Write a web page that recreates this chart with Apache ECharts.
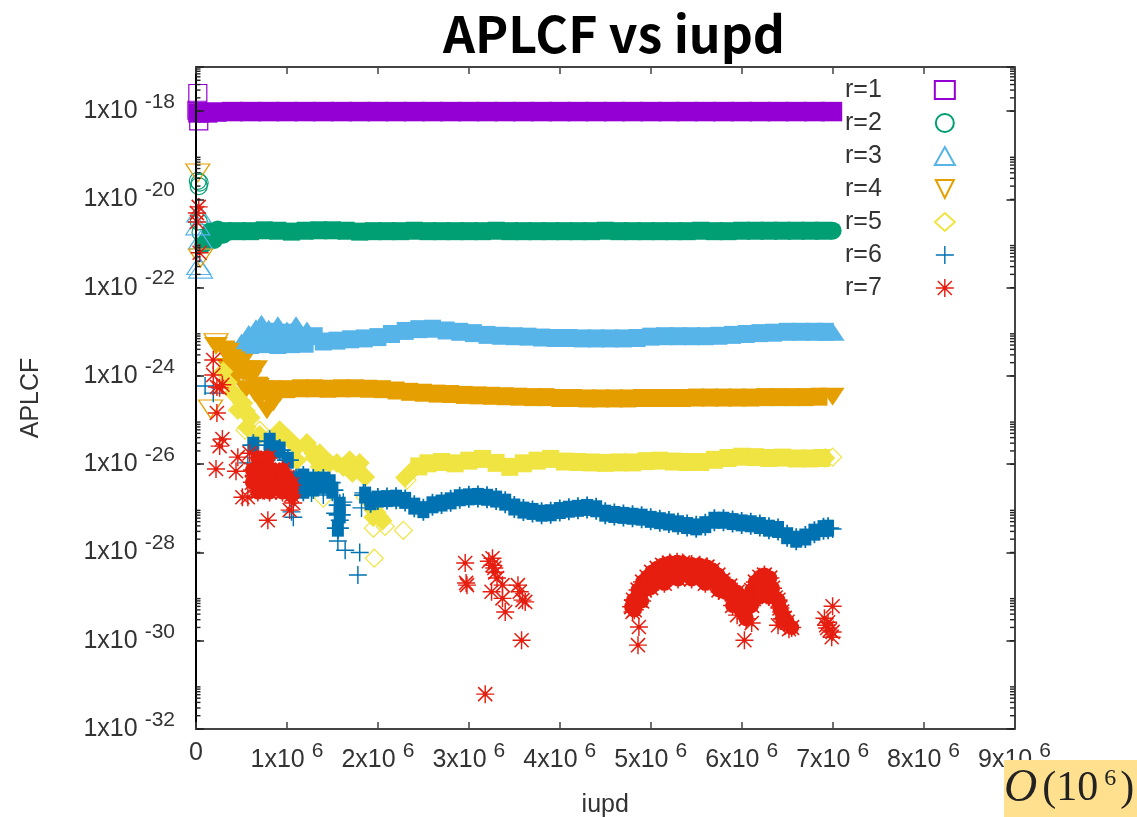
<!DOCTYPE html>
<html><head><meta charset="utf-8">
<style>html,body{margin:0;padding:0;background:#fff}#c{width:1137px;height:817px}</style>
<script src="https://cdn.jsdelivr.net/npm/echarts@6/dist/echarts.min.js"></script>
</head><body><div id="c"></div>
<script>
// All point arrays: [x in units of 1e6, log10(APLCF)]
const xTickLabels = ['0','1','2','3','4','5','6','7','8','9'];
const yTickExponents = ['-32','-30','-28','-26','-24','-22','-20','-18'];
const seriesNames = ['r=1','r=2','r=3','r=4','r=5','r=6','r=7'];
const minorMantissas = [9,8,7,6,5,4,3,2,1];
const minorDecades = [-31,-29,-27,-25,-23,-21,-19,-17];

const r1Sparse = [[0.02,-17.6],[0.03,-18.22],[0.01,-17.98]];
const r1Band = [[0.03,-18.04],[0.12,-18.04],[0.22,-18.02],[0.4,-18.01],[0.6,-18.01],[0.8,-18.01],[1.0,-18.01],[1.2,-18.01],[1.4,-18.01],[1.6,-18.01],[1.8,-18.01],[2.0,-18.01],[2.2,-18.01],[2.4,-18.01],[2.6,-18.01],[2.8,-18.01],[3.0,-18.01],[3.2,-18.01],[3.4,-18.01],[3.6,-18.01],[3.8,-18.01],[4.0,-18.01],[4.2,-18.01],[4.4,-18.01],[4.6,-18.01],[4.8,-18.01],[5.0,-18.01],[5.2,-18.01],[5.4,-18.01],[5.6,-18.01],[5.8,-18.01],[6.0,-18.01],[6.2,-18.01],[6.4,-18.01],[6.6,-18.01],[6.8,-18.01],[6.99,-18.01]];

const r2Sparse = [[0.02,-19.58],[0.03,-19.7],[0.04,-19.62],[0.03,-20.5],[0.05,-20.75]];
const r2Caps = [[0.08,-21.02],[0.13,-20.9],[0.16,-20.72],[0.2,-20.92],[0.24,-20.68],[0.3,-20.8],[7.0,-20.71]];
const r2Band = [[0.3,-20.72],[0.45,-20.72],[0.6,-20.72],[0.75,-20.7],[0.9,-20.71],[1.05,-20.73],[1.2,-20.71],[1.35,-20.7],[1.5,-20.7],[1.65,-20.71],[1.8,-20.73],[1.95,-20.72],[2.1,-20.72],[2.25,-20.72],[2.4,-20.71],[2.55,-20.72],[2.7,-20.72],[2.85,-20.72],[3.0,-20.72],[3.15,-20.72],[3.3,-20.71],[3.45,-20.72],[3.6,-20.72],[3.75,-20.72],[3.9,-20.72],[4.05,-20.72],[4.2,-20.72],[4.35,-20.72],[4.5,-20.71],[4.65,-20.72],[4.8,-20.72],[4.95,-20.72],[5.1,-20.72],[5.25,-20.72],[5.4,-20.72],[5.55,-20.71],[5.7,-20.72],[5.85,-20.72],[6.0,-20.71],[6.15,-20.71],[6.3,-20.71],[6.45,-20.71],[6.6,-20.71],[6.75,-20.71],[6.9,-20.71]];

const r3Sparse = [[0.03,-20.31],[0.05,-20.92],[0.03,-21.5],[0.05,-21.58],[0.02,-20.6]];
const r3Caps = [[0.42,-23.4],[0.5,-23.25],[0.58,-23.05],[0.66,-22.92],[0.72,-22.82],[0.8,-22.93],[0.9,-22.85],[1.0,-22.97],[1.1,-22.85],[1.22,-22.97],[7.0,-23.0]];
const r3Band = [[0.6,-23.3],[0.75,-23.28],[0.85,-23.0],[0.9,-23.3],[1.05,-23.28],[1.05,-23.02],[1.2,-23.27],[1.3,-23.1],[1.4,-23.22],[1.55,-23.2],[1.7,-23.17],[1.85,-23.15],[2.0,-23.12],[2.15,-23.05],[2.3,-22.98],[2.45,-22.94],[2.6,-22.93],[2.75,-22.97],[2.9,-23.0],[3.05,-23.03],[3.2,-23.07],[3.35,-23.09],[3.5,-23.1],[3.65,-23.11],[3.8,-23.13],[3.95,-23.14],[4.1,-23.14],[4.25,-23.15],[4.4,-23.15],[4.55,-23.15],[4.7,-23.15],[4.85,-23.14],[5.0,-23.11],[5.15,-23.1],[5.3,-23.1],[5.45,-23.1],[5.6,-23.1],[5.75,-23.09],[5.9,-23.07],[6.05,-23.05],[6.2,-23.03],[6.35,-23.02],[6.5,-23.0],[6.65,-23.0],[6.8,-23.0],[6.92,-23.0]];

const r4Sparse = [[0.02,-19.4],[0.05,-21.33],[0.22,-23.25],[0.16,-24.75]];
const r4Caps = [[0.22,-23.32],[0.3,-23.4],[0.35,-23.45],[0.35,-23.8],[0.38,-23.6],[0.42,-23.65],[0.45,-23.8],[0.45,-24.0],[0.5,-23.7],[0.52,-23.92],[0.55,-24.3],[0.58,-23.85],[0.6,-24.07],[0.65,-24.4],[0.66,-23.85],[0.68,-24.25],[0.7,-24.5],[0.72,-24.3],[0.78,-24.78],[0.8,-24.5],[0.85,-24.6],[0.92,-24.4],[7.0,-24.47]];
const r4Band = [[0.7,-24.22],[0.85,-24.3],[1.0,-24.3],[1.15,-24.28],[1.3,-24.28],[1.45,-24.29],[1.6,-24.28],[1.75,-24.28],[1.9,-24.29],[2.05,-24.3],[2.2,-24.33],[2.35,-24.36],[2.5,-24.38],[2.65,-24.4],[2.8,-24.41],[2.95,-24.43],[3.1,-24.44],[3.25,-24.45],[3.4,-24.46],[3.55,-24.47],[3.7,-24.48],[3.85,-24.48],[4.0,-24.5],[4.15,-24.5],[4.3,-24.51],[4.45,-24.51],[4.6,-24.51],[4.75,-24.51],[4.9,-24.5],[5.05,-24.5],[5.2,-24.5],[5.35,-24.5],[5.5,-24.49],[5.65,-24.49],[5.8,-24.49],[5.95,-24.49],[6.1,-24.49],[6.25,-24.48],[6.4,-24.48],[6.55,-24.48],[6.7,-24.48],[6.85,-24.47]];

const r5Sparse = [[0.54,-25.23],[0.7,-25.23],[1.95,-27.45],[2.08,-27.41],[2.28,-27.5],[1.96,-28.13],[2.32,-26.36],[1.44,-26.43],[1.4,-26.77],[1.86,-26.75],[1.99,-27.1],[7.0,-25.84]];
const r5Caps = [[0.3,-23.9],[0.35,-24.15],[0.41,-24.39],[0.42,-24.4],[0.46,-24.77],[0.5,-24.6],[0.52,-24.62],[0.55,-24.8],[0.56,-25.16],[0.59,-24.93],[0.6,-24.95],[0.7,-25.34],[0.89,-25.34],[0.92,-25.23],[1.0,-25.39],[1.03,-25.45],[1.11,-25.61],[1.11,-25.91],[1.22,-25.52],[1.23,-25.6],[1.29,-25.75],[1.3,-25.85],[1.36,-26.06],[1.36,-25.75],[1.45,-25.95],[1.47,-25.97],[1.55,-25.97],[1.62,-26.05],[1.62,-26.06],[1.69,-25.91],[1.77,-26.06],[1.8,-25.97],[1.86,-26.29],[1.72,-26.2],[1.95,-27.04],[1.95,-27.2],[2.02,-27.2],[2.05,-27.28],[2.3,-26.3],[2.4,-26.1],[6.92,-25.86]];
const r5Band = [[2.45,-26.05],[2.55,-25.98],[2.7,-25.95],[2.85,-25.98],[3.0,-25.92],[3.15,-25.88],[3.3,-25.97],[3.45,-26.06],[3.6,-25.98],[3.75,-25.92],[3.9,-25.88],[4.05,-25.94],[4.2,-25.95],[4.35,-25.96],[4.5,-25.97],[4.65,-25.96],[4.8,-25.96],[4.95,-25.93],[5.1,-25.92],[5.25,-25.94],[5.4,-25.95],[5.55,-25.95],[5.7,-25.9],[5.85,-25.86],[6.0,-25.83],[6.15,-25.84],[6.3,-25.86],[6.45,-25.85],[6.6,-25.87],[6.75,-25.87],[6.88,-25.86]];

const r6Sparse = [[0.1,-24.23],[0.19,-24.39],[0.57,-25.97],[1.07,-27.2],[1.05,-27.08],[1.27,-26.65],[1.62,-26.86],[1.53,-27.11],[1.58,-27.27],[1.56,-27.74],[1.64,-27.95],[1.8,-28.0],[1.78,-28.51],[1.82,-26.99],[1.84,-26.65],[1.4,-26.7],[7.0,-27.47]];
const r6Band = [[0.63,-25.57],[0.81,-25.48],[0.81,-25.73],[0.92,-25.68],[1.01,-25.91],[1.1,-26.35],[1.18,-26.29],[1.18,-26.59],[1.2,-26.45],[1.29,-26.36],[1.29,-26.54],[1.35,-26.42],[1.4,-26.36],[1.4,-26.48],[1.47,-26.42],[1.5,-26.59],[1.58,-26.93],[1.58,-27.15],[1.56,-27.45],[1.86,-26.7],[1.92,-26.85],[2.0,-26.79],[2.1,-26.78],[2.2,-26.77],[2.3,-26.82],[2.4,-26.95],[2.5,-27.03],[2.6,-26.92],[2.7,-26.88],[2.8,-26.83],[2.9,-26.76],[3.0,-26.74],[3.1,-26.73],[3.2,-26.75],[3.3,-26.79],[3.4,-26.86],[3.5,-26.97],[3.6,-27.04],[3.7,-27.07],[3.8,-27.11],[3.9,-27.1],[4.0,-27.05],[4.1,-27.02],[4.2,-27.0],[4.3,-26.98],[4.4,-27.01],[4.5,-27.11],[4.6,-27.14],[4.7,-27.16],[4.8,-27.18],[4.9,-27.2],[5.0,-27.25],[5.1,-27.28],[5.2,-27.31],[5.3,-27.35],[5.4,-27.39],[5.5,-27.42],[5.6,-27.37],[5.7,-27.27],[5.8,-27.27],[5.9,-27.3],[6.0,-27.33],[6.1,-27.35],[6.2,-27.39],[6.3,-27.45],[6.4,-27.48],[6.5,-27.62],[6.6,-27.7],[6.7,-27.65],[6.8,-27.54],[6.9,-27.46],[6.95,-27.45]];

const r7Sparse = [[0.03,-20.17],[0.01,-20.31],[0.01,-20.51],[0.04,-21.21],[0.19,-23.64],[0.19,-23.98],[0.26,-24.27],[0.29,-24.2],[0.23,-24.25],[0.23,-24.84],[0.29,-25.43],[0.26,-25.59],[0.22,-26.11],[0.44,-26.16],[0.46,-25.84],[0.59,-25.75],[0.51,-26.75],[0.57,-26.75],[0.79,-27.27],[1.07,-26.88],[1.03,-27.04],[0.68,-26.59],[2.96,-28.24],[2.97,-28.69],[2.98,-28.74],[3.26,-28.13],[3.26,-28.29],[3.29,-28.45],[3.31,-28.58],[3.25,-28.89],[3.37,-28.74],[3.37,-29.04],[3.4,-29.35],[3.54,-28.74],[3.56,-28.89],[3.59,-29.08],[3.62,-29.12],[3.58,-29.99],[3.18,-31.21],[3.28,-28.35],[3.22,-28.2],[4.87,-29.69],[4.86,-30.1],[4.8,-29.35],[6.11,-29.6],[6.03,-29.99],[5.95,-29.42],[6.4,-29.65],[6.52,-29.74],[6.47,-29.58],[7.0,-29.22],[6.91,-29.49],[6.93,-29.65],[6.97,-29.76],[6.99,-29.92],[6.95,-29.58],[6.94,-29.71],[7.0,-29.8]];
const r7Dense = [[0.68,-25.86],[0.79,-25.86],[0.74,-25.98],[0.62,-26.13],[0.73,-26.13],[0.84,-26.13],[0.95,-26.13],[0.67,-26.27],[0.78,-26.27],[0.89,-26.27],[1.0,-26.3],[0.62,-26.41],[0.73,-26.41],[0.84,-26.41],[0.95,-26.41],[1.05,-26.47],[0.68,-26.63],[0.81,-26.63],[0.95,-26.63],[1.05,-26.7],[4.79,-29.23],[4.81,-29.08],[4.86,-28.85],[4.91,-28.67],[4.96,-28.56],[5.01,-28.45],[5.07,-28.36],[5.13,-28.29],[5.21,-28.24],[5.29,-28.22],[5.35,-28.24],[5.45,-28.27],[5.54,-28.29],[5.62,-28.33],[5.68,-28.4],[5.74,-28.51],[5.79,-28.63],[5.87,-28.76],[5.95,-28.9],[6.0,-29.03],[6.01,-29.22],[6.07,-28.99],[6.11,-28.86],[6.15,-28.67],[6.2,-28.56],[6.25,-28.51],[6.31,-28.58],[6.34,-28.81],[6.37,-29.03],[6.42,-29.26],[6.47,-29.49],[4.88,-29.08],[4.93,-28.85],[5.01,-28.69],[5.1,-28.58],[5.21,-28.51],[5.32,-28.49],[5.43,-28.45],[5.54,-28.49],[5.65,-28.58],[5.74,-28.74],[5.82,-28.9],[5.92,-29.08],[6.03,-29.35],[6.11,-29.2],[6.2,-28.86],[6.29,-28.81],[6.4,-29.08],[6.44,-29.35],[6.5,-29.58],[5.0,-28.8],[5.15,-28.7],[5.3,-28.6],[5.45,-28.6],[5.6,-28.7],[5.75,-28.85],[5.9,-29.2],[6.05,-29.5],[6.2,-29.0],[6.3,-29.0],[6.45,-29.5],[4.82,-29.3],[4.9,-29.1],[6.55,-29.7]];

const colors = ['#9400D3','#009E73','#56B4E9','#E69F00','#F0E442','#0072B2','#E51E10'];
const plusPath = 'path://M46 0H54V46H100V54H54V100H46V54H0V46H46Z';
const starPath = 'path://M46 0H54V46H100V54H54V100H46V54H0V46H46ZM14 8L92 86L86 92L8 14ZM86 8L92 14L14 92L8 86ZM38 38H62V62H38Z';
const triDown = 'path://M0 0H100L50 100Z';

const toPts = a => a.map(p => [p[0]*1e6, p[1]]);
const base = {type:'scatter', silent:true, clip:false, animation:false, emphasis:{disabled:true}};
const hollow = (i,data,symbol,size) => Object.assign({},base,{name:seriesNames[i],data:toPts(data),symbol,symbolSize:size,
  itemStyle:{color:'rgba(255,255,255,0)',borderColor:colors[i],borderWidth:1.2,opacity:1}});
const filled = (i,data,symbol,size) => Object.assign({},base,{name:seriesNames[i],data:toPts(data),symbol,symbolSize:size,
  itemStyle:{color:colors[i],opacity:1,borderWidth:0}});

const minorData = [];
minorDecades.forEach(d => minorMantissas.forEach(m => { const v = d-1+Math.log10(m); if (v>=-32 && v<=-17) minorData.push(v); }));

const series = [
  hollow(0,r1Sparse,'rect',[18,18]), filled(0,r1Band,'rect',[21,19.5]),
  hollow(1,r2Sparse,'circle',[17,17]), filled(1,r2Band,'rect',[17,18]), filled(1,r2Caps,'circle',[18,18]),
  hollow(2,r3Sparse,'triangle',[24,18]), filled(2,r3Band,'rect',[17,18]), filled(2,r3Caps,'triangle',[24,18]),
  hollow(3,r4Sparse,triDown,[24,18]), filled(3,r4Band,'rect',[17,18]), filled(3,r4Caps,triDown,[24,18]),
  hollow(4,r5Sparse,'diamond',[18,18]), filled(4,r5Band,'rect',[17,18]), filled(4,r5Caps,'diamond',[20,20]),
  filled(5,r6Sparse,plusPath,[18,18]), filled(5,r6Band,plusPath,[22,22]), filled(5,r6Band,'rect',[12,17]),
  filled(6,r7Sparse,starPath,[18,18]), filled(6,r7Dense,starPath,[19,19]), filled(6,r7Dense,'circle',[15,15]),
  {type:'custom', silent:true, animation:false, clip:false, z:6, data:minorData.map(v=>[0,v]),
   renderItem:(p,api)=>{
     const v=api.value(1), L=api.coord([0,v]), R=api.coord([9e6,v]);
     const st={stroke:'#222',lineWidth:1.4};
     return {type:'group',children:[
       {type:'line',shape:{x1:L[0],y1:L[1],x2:L[0]+4.5,y2:L[1]},style:st},
       {type:'line',shape:{x1:R[0],y1:R[1],x2:R[0]-4.5,y2:R[1]},style:st}]};
   }}
];

const supRich = {a:{fontFamily:'Liberation Sans',fontSize:25,color:'#333'},
  s:{fontFamily:'Liberation Sans',fontSize:21,color:'#333',padding:[0,0,18,7]}};
const lineSt = c => ({show:true,onZero:false,lineStyle:{color:c,width:2}});
const tickSt = (len,c) => ({show:true,inside:true,length:len,lineStyle:{color:c,width:1.5}});

const chart = echarts.init(document.getElementById('c'),null,{renderer:'canvas'});
chart.setOption({
  animation:false, backgroundColor:'#fff',
  title:{text:'APLCF vs iupd',left:609,top:4,textAlign:'center',
    textStyle:{fontFamily:'Noto Sans CJK JP',fontWeight:'bold',fontSize:50,color:'#000'}},
  grid:{left:196,top:67,width:818.5,height:662,containLabel:false,outerBoundsMode:'none'},
  legend:{show:true,orient:'vertical',left:840,top:71,itemWidth:20,itemHeight:18,itemGap:5,align:'right',
    selectedMode:false,
    data:[{name:'r=1',icon:'rect'},{name:'r=2',icon:'circle'},{name:'r=3',icon:'triangle'},{name:'r=4',icon:triDown},
          {name:'r=5',icon:'diamond'},{name:'r=6',icon:plusPath},{name:'r=7',icon:starPath}],
    textStyle:{fontFamily:'Liberation Sans',fontSize:25,lineHeight:22,color:'#333',padding:[0,48,6,0]}},
  xAxis:[
   {type:'value',min:0,max:9e6,interval:1e6,position:'bottom',z:5,splitLine:{show:false},
    axisLine:lineSt('#444'),axisTick:tickSt(7,'#444'),
    axisLabel:{margin:12,color:'#333',rich:supRich,
      formatter:(v,i)=> v===0 ? '{a|0}' : `{a|${xTickLabels[i]}x10}{s|6}`},
    name:'iupd',nameLocation:'middle',nameGap:64,nameTextStyle:{fontFamily:'Liberation Sans',fontSize:25,color:'#333'}},
   {type:'value',min:0,max:9e6,interval:1e6,position:'top',z:5,splitLine:{show:false},
    axisLine:lineSt('#444'),axisTick:tickSt(7,'#444'),axisLabel:{show:false}}
  ],
  yAxis:[
   {type:'value',min:-32,max:-17,interval:2,position:'left',z:5,splitLine:{show:false},
    axisLine:lineSt('#000'),axisTick:tickSt(8,'#222'),
    axisLabel:{margin:21,color:'#333',rich:supRich,
      formatter:(v,i)=> yTickExponents[i]===undefined ? '' : `{a|1x10}{s|${yTickExponents[i]}}`},
    name:'APLCF',nameLocation:'middle',nameRotate:90,nameGap:152,nameTextStyle:{fontFamily:'Liberation Sans',fontSize:25,color:'#333'}},
   {type:'value',min:-32,max:-17,interval:2,position:'right',z:5,splitLine:{show:false},
    axisLine:lineSt('#444'),axisTick:tickSt(8,'#222'),axisLabel:{show:false}}
  ],
  graphic:[
   {type:'rect',z:50,shape:{x:1004,y:760,width:133,height:57},style:{fill:'#FFE08F'}},
   {type:'text',z:51,x:1004,y:766,style:{text:'{o|O}{n|(10}{s|6}{n|)}',
     rich:{o:{fontFamily:'Liberation Serif',fontStyle:'italic',fontSize:46,fill:'#222',padding:[0,5,0,0]},
           n:{fontFamily:'Liberation Serif',fontSize:42,fill:'#222'},
           s:{fontFamily:'Liberation Serif',fontSize:24,fill:'#222',padding:[0,4,20,6]}}}}
  ],
  series
});
</script></body></html>
